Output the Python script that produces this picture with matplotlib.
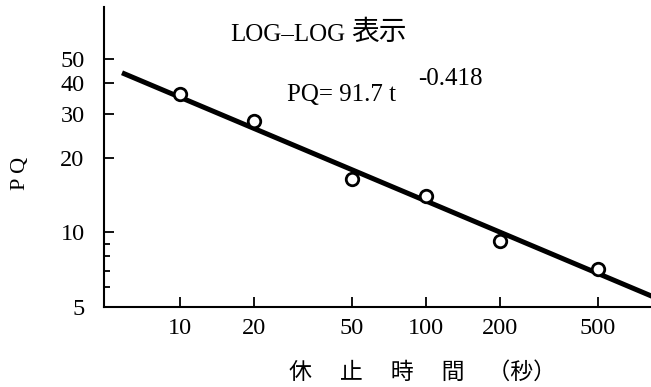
import numpy as np
import matplotlib
matplotlib.use('Agg')
import matplotlib.pyplot as plt
from matplotlib.ticker import NullLocator, NullFormatter

# 休止時間とPQ (LOG-LOG)
t_data = [10, 20, 50, 100, 200, 500]
pq_data = [36.0, 28.0, 16.4, 14.0, 9.2, 7.1]

# 回帰式 PQ = 91.7 t^-0.418
fit_a = 91.7
fit_b = -0.418
line_t = np.array([5.8, 1000.0])

x_ticks = [10, 20, 50, 100, 200, 500]
x_ticklabels = ['10', '20', '50', '100', '200', '500']
y_ticks = [5, 10, 20, 30, 40, 50]
y_ticklabels = ['5', '10', '20', '30', '40', '50']
y_minor = [6, 7, 8, 9]

W, H = 651, 387
serif = ['Liberation Serif', 'DejaVu Serif']
jp = ['Noto Sans CJK JP', 'DejaVu Sans']


def px(x, y):
    return x / W, 1 - y / H


fig = plt.figure(figsize=(W / 100, H / 100), dpi=100)
ax = fig.add_axes([104 / W, 1 - 307 / H, 547 / W, 300 / H])
ax.set_xscale('log')
ax.set_yscale('log')

ax.plot(line_t, fit_a * line_t ** fit_b, color='black', lw=3.6, solid_capstyle='butt', zorder=2)
ax.plot(t_data, pq_data, 'o', ms=9, mfc='white', mec='black', mew=2, zorder=3)

ax.set_xlim(4.9, 822)
ax.set_ylim(5, 81)

for s in ['top', 'right']:
    ax.spines[s].set_visible(False)
for s in ['left', 'bottom']:
    ax.spines[s].set_linewidth(1.5)

ax.set_xticks(x_ticks)
ax.set_xticklabels(x_ticklabels, family=serif, fontsize=17.5)
ax.xaxis.set_minor_locator(NullLocator())
ax.set_yticks(y_ticks)
ax.set_yticklabels(y_ticklabels, family=serif, fontsize=17.5)
ax.set_yticks(y_minor, minor=True)
ax.yaxis.set_minor_formatter(NullFormatter())

ax.tick_params(axis='x', which='major', direction='in', length=7, width=1.3, pad=8)
ax.tick_params(axis='y', which='major', direction='in', length=7, width=1.3, pad=14)
ax.tick_params(axis='y', which='minor', direction='in', length=4.5, width=1.3)

# 注記
fig.text(*px(230, 41), 'LOG–LOG', family=serif, fontsize=18, va='baseline', ha='left')
fig.text(*px(351, 40), '表示', family=jp, fontsize=20, va='baseline', ha='left')
fig.text(*px(287, 101), 'PQ= 91.7 t', family=serif, fontsize=18, va='baseline', ha='left')
fig.text(*px(418, 85), '-0.418', family=serif, fontsize=18, va='baseline', ha='left')

# 軸ラベル
fig.text(*px(20, 173), 'P Q', family=serif, fontsize=16, rotation=90, ha='center', va='center')
fig.text(*px(289, 372), '休　 止　 時　 間　（秒）', family=jp, fontsize=16.5, ha='left', va='center')

fig.savefig('out.png', dpi=100, facecolor='white')
